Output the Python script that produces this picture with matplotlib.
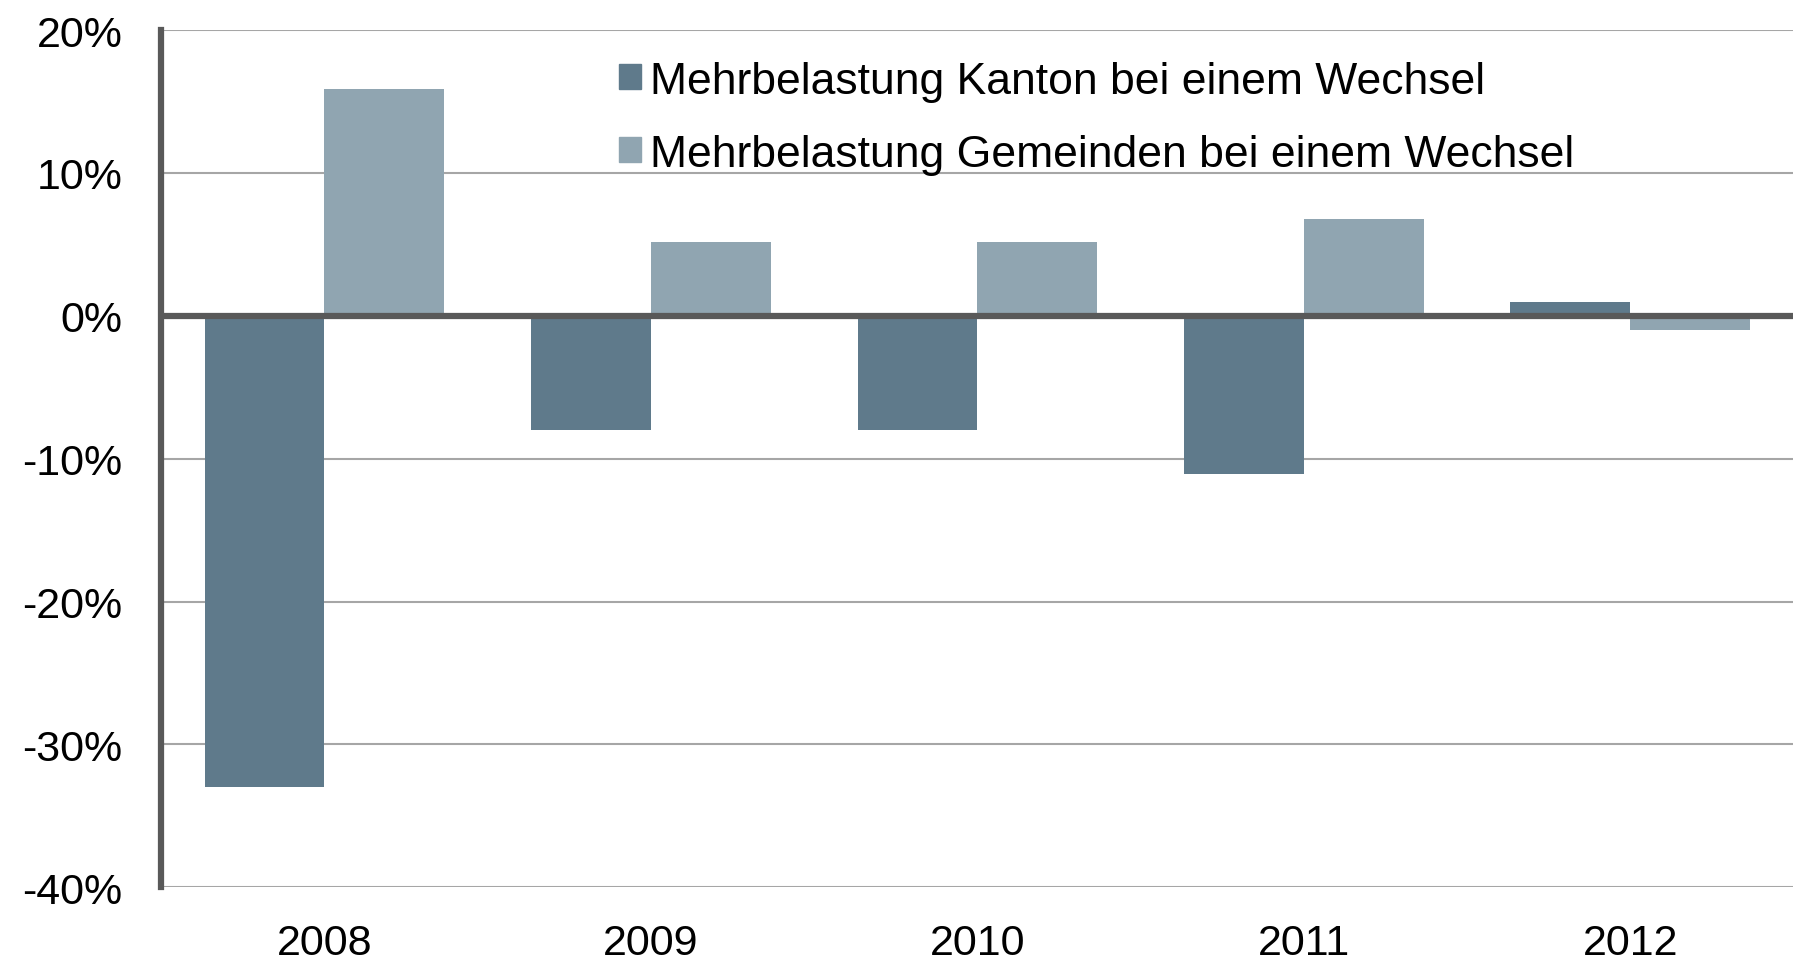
import matplotlib.pyplot as plt
from matplotlib.patches import Patch
from matplotlib.ticker import FuncFormatter
import numpy as np

plt.rcParams['font.family'] = ['Liberation Sans', 'DejaVu Sans']

years = ['2008', '2009', '2010', '2011', '2012']
kanton = [-33.0, -8.0, -8.0, -11.1, 1.0]
gemeinden = [15.9, 5.2, 5.2, 6.8, -1.0]
labels = ['Mehrbelastung Kanton bei einem Wechsel',
          'Mehrbelastung Gemeinden bei einem Wechsel']
c_kanton = '#5f7a8b'
c_gem = '#90a5b1'

fig = plt.figure(figsize=(18.05, 9.62), dpi=100)
ax = fig.add_axes([0.0893, 0.0766, 0.9043, 0.8911])

x = np.arange(len(years))
w = 0.367
ax.bar(x - w / 2, kanton, w, color=c_kanton, zorder=2)
ax.bar(x + w / 2, gemeinden, w, color=c_gem, zorder=2)

ax.set_xlim(-0.5, len(years) - 0.5)
ax.set_ylim(-40, 20)
ax.set_yticks(np.arange(-40, 21, 10))
ax.yaxis.set_major_formatter(FuncFormatter(lambda v, p: '%d%%' % v))
ax.set_xticks(x)
ax.set_xticklabels(years)

ax.grid(axis='y', color='#a6a6a6', lw=1.5, zorder=1)
ax.axhline(0, color='#595959', lw=4.5, zorder=3)

for s in ['top', 'right', 'bottom']:
    ax.spines[s].set_visible(False)
ax.spines['left'].set_color('#595959')
ax.spines['left'].set_linewidth(4.5)
ax.tick_params(length=0, labelsize=31, pad=28)
ax.tick_params(axis='x', pad=26)

# legend sits inside the plot, no frame
handles = [Patch(color=c_kanton), Patch(color=c_gem)]
ax.legend(handles, labels, loc='upper left', bbox_to_anchor=(0.343, 0.936),
          bbox_transform=fig.transFigure, frameon=False, fontsize=32,
          handlelength=0.5, handleheight=0.5, handletextpad=0.2,
          labelspacing=0.72, borderaxespad=0, borderpad=0)

fig.savefig('out.png', dpi=100)
